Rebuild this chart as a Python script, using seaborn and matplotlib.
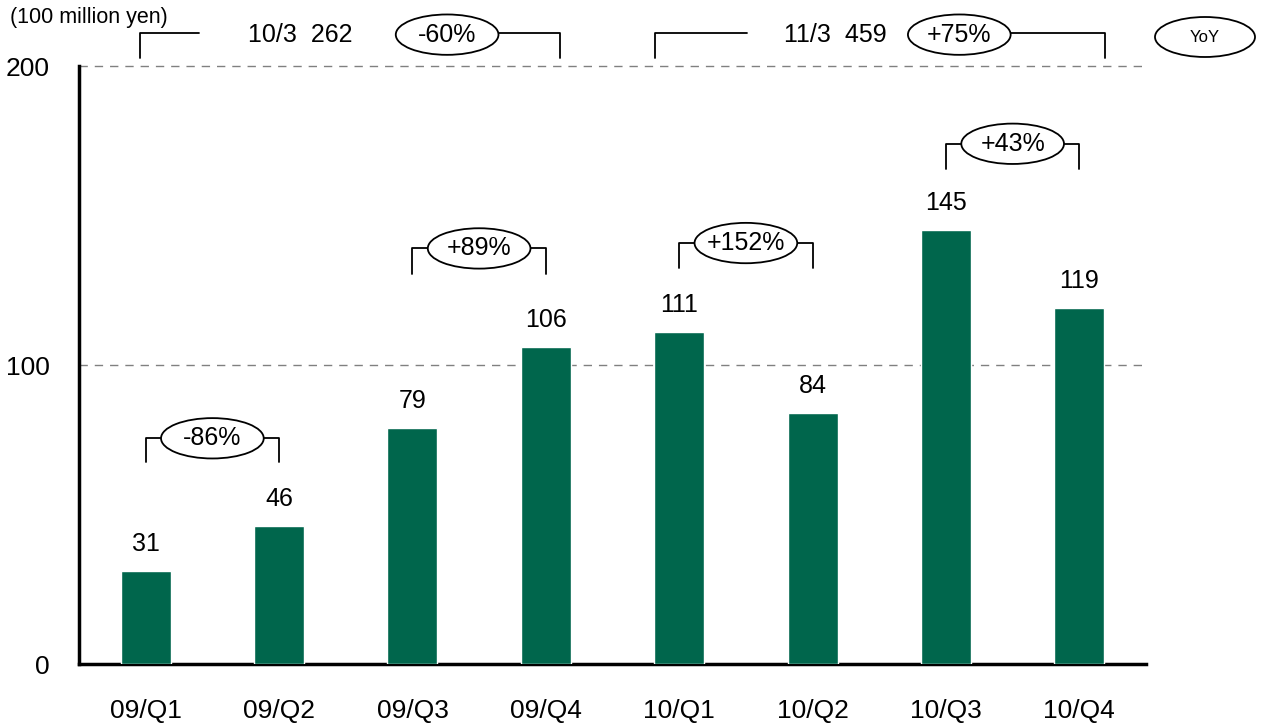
import matplotlib
matplotlib.use("Agg")
import matplotlib.pyplot as plt
from matplotlib import font_manager
from matplotlib.patches import Ellipse
from matplotlib.ticker import FixedLocator
import seaborn as sns
import pandas as pd

# Quarterly figures (100 million yen)
quarters = ["09/Q1", "09/Q2", "09/Q3", "09/Q4", "10/Q1", "10/Q2", "10/Q3", "10/Q4"]
values = [31, 46, 79, 106, 111, 84, 145, 119]

# Year-over-year changes shown between quarter pairs
yoy_pairs = [(0, 1), (2, 3), (4, 5), (6, 7)]
yoy_labels = ["-86%", "+89%", "+152%", "+43%"]

# Fiscal-year totals
fy_labels = ["10/3  262", "11/3  459"]
fy_changes = ["-60%", "+75%"]

unit_label = "(100 million yen)"
yticks = [0, 100, 200]

sns.set_theme(style="white")
names = {f.name for f in font_manager.fontManager.ttflist}
regular = "Liberation Sans" if "Liberation Sans" in names else "DejaVu Sans"
narrow = "Liberation Sans Narrow" if "Liberation Sans Narrow" in names else regular
plt.rcParams["font.family"] = [regular, "DejaVu Sans"]
plt.rcParams["text.color"] = "black"

GREEN = "#00664C"

fig = plt.figure(figsize=(12.62, 7.25), dpi=100)
ax = fig.add_axes([0.0626, 0.0841, 0.8455, 0.8248])

df = pd.DataFrame({"quarter": quarters, "value": values})
sns.barplot(data=df, x="quarter", y="value", color=GREEN, saturation=1,
            width=0.375, ax=ax, zorder=3)

ax.set_xlim(-0.5, len(quarters) - 0.5)
ax.set_ylim(0, 200)
ax.set_xlabel("")
ax.set_ylabel("")

# Axis styling
for side in ("top", "right"):
    ax.spines[side].set_visible(False)
for side in ("left", "bottom"):
    ax.spines[side].set_color("black")
    ax.spines[side].set_linewidth(2.5)

ax.set_yticks(yticks)
ax.set_yticklabels([str(t) for t in yticks], fontfamily=narrow, fontsize=19)
ax.tick_params(axis="y", direction="in", length=5, width=2, pad=21, colors="black")

ax.set_xticks(range(len(quarters)))
ax.set_xticklabels(quarters, fontfamily=narrow, fontsize=19)
ax.tick_params(axis="x", which="major", length=0, pad=25, colors="black")
ax.xaxis.set_minor_locator(FixedLocator([i + 0.5 for i in range(len(quarters))]))
ax.tick_params(axis="x", which="minor", direction="in", length=8, width=2, colors="black")

# Dashed reference lines
for y in (100, 200):
    ax.axhline(y, color="#808080", lw=1, ls=(0, (6, 5)), zorder=1, clip_on=False)

# Value labels above bars
ax.bar_label(ax.containers[0], labels=[str(v) for v in values],
             padding=11, fontsize=18, color="black")

ELL_W, ELL_H = 0.77, 13.5


def yoy_bracket(x0, x1, top, bottom, text, cx=None, cy=None):
    cx = (x0 + x1) / 2 if cx is None else cx
    cy = top if cy is None else cy
    ax.plot([x0, x0, x1, x1], [bottom, top, top, bottom], color="black",
            lw=1.3, zorder=4, clip_on=False)
    ax.add_patch(Ellipse((cx, cy), ELL_W, ELL_H, facecolor="white",
                         edgecolor="black", lw=1.3, zorder=5, clip_on=False))
    ax.text(cx, cy, text, ha="center", va="center", fontsize=18, zorder=6)


bracket_levels = [(75.5, 67.5), (139.0, 130.5), (140.8, 132.4), (174.0, 165.5)]
for (a, b), label, (top, bottom) in zip(yoy_pairs, yoy_labels, bracket_levels):
    yoy_bracket(a, b, top, bottom, label)

# Fiscal-year brackets above the plot area
fy_spans = [(-0.043, 0.40, 1.157, 2.26, 3.11), (3.82, 4.51, 5.17, 6.10, 7.19)]
for (xl, xm, xt, xe, xr), lab, chg in zip(fy_spans, fy_labels, fy_changes):
    ax.plot([xl, xl, xm], [202.7, 211, 211], color="black", lw=1.3, clip_on=False)
    ax.plot([xe, xr, xr], [211, 211, 202.7], color="black", lw=1.3, clip_on=False)
    ax.add_patch(Ellipse((xe, 210.5), ELL_W, ELL_H, facecolor="white",
                         edgecolor="black", lw=1.3, zorder=5, clip_on=False))
    ax.text(xe, 210.5, chg, ha="center", va="center", fontsize=18, zorder=6)
    ax.text(xt, 210.5, lab, ha="center", va="center", fontsize=18)

# YoY legend marker
fig.add_artist(Ellipse((1205 / 1262, 1 - 37 / 725), 100 / 1262, 40 / 725,
                       transform=fig.transFigure, facecolor="white",
                       edgecolor="black", lw=1.3))
fig.text(1205 / 1262, 1 - 37 / 725, "YoY", ha="center", va="center", fontsize=12)

fig.text(10 / 1262, 1 - 18 / 725, unit_label, ha="left", va="center", fontsize=15.5)

fig.savefig("out.png", dpi=100)
